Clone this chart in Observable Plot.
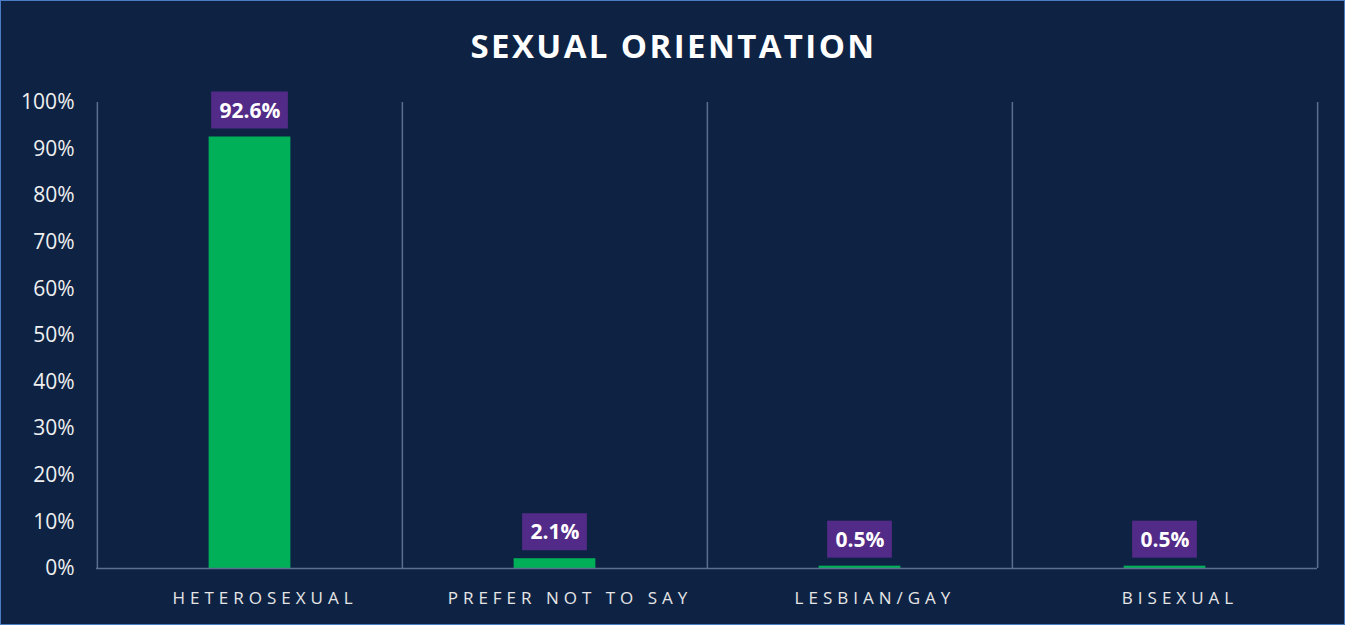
<!DOCTYPE html>
<html>
<head>
<meta charset="utf-8">
<script src="https://cdn.jsdelivr.net/npm/d3@7"></script>
<script src="https://cdn.jsdelivr.net/npm/@observablehq/plot@0.6"></script>
<style>
  html, body { margin: 0; padding: 0; background: #0E2344; }
  #card {
    position: relative;
    width: 1345px; height: 625px;
    box-sizing: border-box;
    border: 1px solid #4A7CC4;
    background: #0E2344;
    overflow: hidden;
    font-family: "Open Sans", sans-serif;
  }
  #title {
    position: absolute; left: 0; right: 0; top: 22px;
    text-align: center;
    color: #FFFFFF;
    font-weight: 700;
    font-size: 33px;
    letter-spacing: 2.4px;
    line-height: 46px;
    padding-left: 2px;
  }
  #chart { position: absolute; left: 0; top: 80px; }
</style>
</head>
<body>
<div id="card">
  <div id="title">SEXUAL ORIENTATION</div>
  <div id="chart"></div>
</div>
<script>
const categories = ["HETEROSEXUAL", "PREFER NOT TO SAY", "LESBIAN/GAY", "BISEXUAL"];
const values = [92.6, 2.1, 0.5, 0.5];
const valueLabels = ["92.6%", "2.1%", "0.5%", "0.5%"];
const yTicks = [0, 10, 20, 30, 40, 50, 60, 70, 80, 90, 100];

const data = categories.map((c, i) => ({category: c, value: values[i], label: valueLabels[i]}));

const W = 1343, H = 544;
const marginLeft = 95, marginRight = 27, marginTop = 21, marginBottom = 57;
const step = (W - marginLeft - marginRight) / categories.length;
const barW = 82;
const barInset = (step - barW) / 2;
const gridColor = "#5B6F8F";

// purple label boxes, one mark per datum so width fits label text
const boxMarks = data.map(d => {
  const bw = d.label.length >= 5 ? 77 : 65;
  const ins = (step - bw) / 2;
  return Plot.barY([d], {
    x: "category", y1: "value", y2: "value",
    fill: "#522A87",
    insetLeft: ins, insetRight: ins,
    insetTop: -45, insetBottom: 8
  });
});

const chart = Plot.plot({
  width: W, height: H,
  marginLeft, marginRight, marginTop, marginBottom,
  style: { background: "transparent", color: "#F2F2F2", fontFamily: "Open Sans, sans-serif" },
  x: { domain: categories, padding: 0, label: null, axis: null },
  y: { domain: [0, 100], label: null, axis: null },
  marks: [
    // vertical separators at band boundaries
    Plot.ruleX(categories, { x: d => d, dx: -step / 2, y1: 0, y2: 100, stroke: gridColor, strokeWidth: 1.5 }),
    Plot.ruleX([categories[categories.length - 1]], { x: d => d, dx: step / 2, y1: 0, y2: 100, stroke: gridColor, strokeWidth: 1.5 }),
    Plot.barY(data, { x: "category", y: "value", fill: "#00B058", insetLeft: barInset, insetRight: barInset }),
    Plot.ruleY([0], { stroke: gridColor, strokeWidth: 1.5 }),
    ...boxMarks,
    Plot.text(data, {
      x: "category", y: "value", text: "label",
      dy: -26, fill: "#FFFFFF", fontWeight: 700, fontSize: 21
    }),
    Plot.axisY({
      ticks: yTicks, tickFormat: d => d + "%", tickSize: 0, tickPadding: 22,
      fontSize: 21, label: null, color: "#F0F0F0"
    }),
    Plot.axisX({
      tickSize: 0, tickPadding: 23, fontSize: 17, label: null, color: "#E6E6E6", dx: 15
    })
  ]
});

d3.select(chart).selectAll("[aria-label='x-axis tick label'] text").style("letter-spacing", "5px");
document.getElementById("chart").appendChild(chart);
</script>
</body>
</html>
